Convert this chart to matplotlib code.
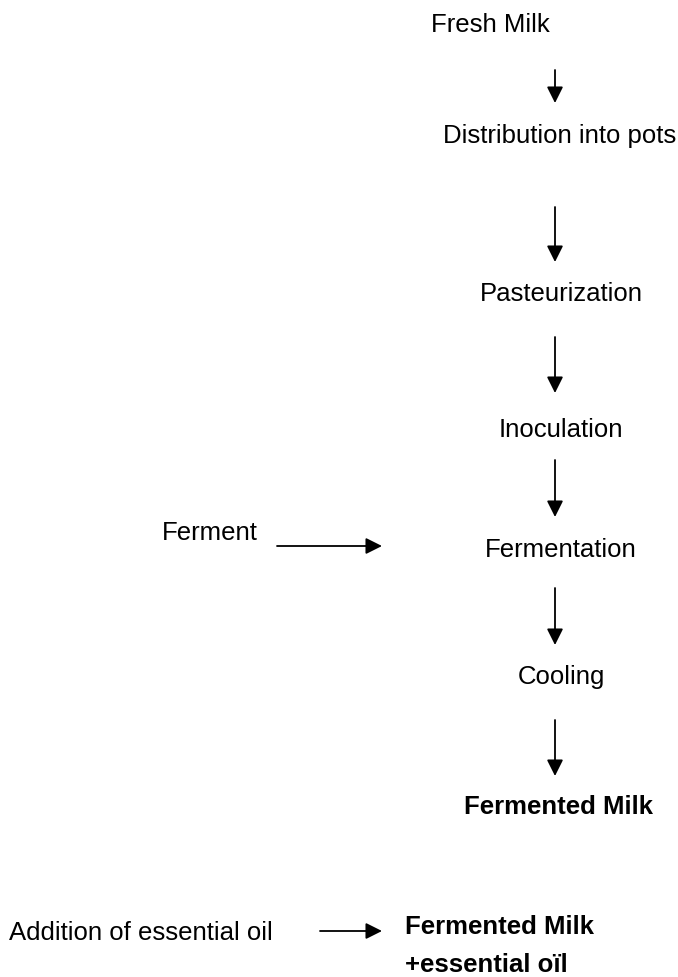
import matplotlib
matplotlib.use("Agg")
import matplotlib.pyplot as plt
from matplotlib import font_manager

# the original uses a narrow sans; fall back to a smaller regular sans if none is installed
names = {f.name for f in font_manager.fontManager.ttflist}
if "Liberation Sans Narrow" in names:
    plt.rcParams['font.family'] = ['Liberation Sans Narrow', 'DejaVu Sans']
    fs = 22
else:
    plt.rcParams['font.family'] = ['Liberation Sans', 'DejaVu Sans']
    fs = 18.5

# main chain of steps
steps = ["Fresh Milk", "Distribution into pots", "Pasteurization", "Inoculation",
         "Fermentation", "Cooling", "Fermented Milk"]
step_bold = [False, False, False, False, False, False, True]
# side inputs
side_labels = ["Ferment", "Addition of essential oil"]
final_label = ["Fermented Milk", "+essential o\u00efl"]

# layout (pixel coords)
step_x = [431, 443, 561, 561, 561, 561, 653]
step_ha = ["left", "left", "center", "center", "center", "center", "right"]
step_base = [32, 143, 301, 437, 557, 684, 814]
arrow_x = 555
arrow_y = [(70, 103), (207, 262), (337, 393), (460, 517), (588, 645), (720, 776)]

fig = plt.figure(figsize=(6.78, 9.77), dpi=100)
ax = fig.add_axes([0, 0, 1, 1])
ax.set_xlim(0, 678)
ax.set_ylim(977, 0)
ax.axis("off")

aprops = dict(arrowstyle="-|>,head_length=0.7,head_width=0.35", lw=1.3,
              color="black", mutation_scale=14, shrinkA=0, shrinkB=0)

for lab, x, ha, yb, b in zip(steps, step_x, step_ha, step_base, step_bold):
    ax.text(x, yb, lab, ha=ha, va="baseline", fontsize=fs,
            fontweight="bold" if b else "normal")

for y0, y1 in arrow_y:
    ax.annotate("", xy=(arrow_x, y1), xytext=(arrow_x, y0), arrowprops=aprops)

# ferment input
ax.text(162, 540, side_labels[0], ha="left", va="baseline", fontsize=fs)
ax.annotate("", xy=(382, 546), xytext=(277, 546), arrowprops=aprops)

# essential oil addition
ax.text(9, 940, side_labels[1], ha="left", va="baseline", fontsize=fs)
ax.annotate("", xy=(382, 931), xytext=(320, 931), arrowprops=aprops)
ax.text(405, 934, final_label[0], ha="left", va="baseline", fontsize=fs, fontweight="bold")
ax.text(405, 972, final_label[1], ha="left", va="baseline", fontsize=fs, fontweight="bold")

fig.savefig("out.png", dpi=100)
